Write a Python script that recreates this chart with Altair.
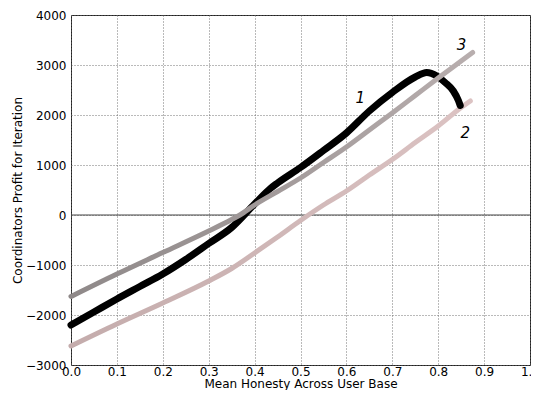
import altair as alt
import pandas as pd

# ---- data ----
x_ticks = [0.0, 0.1, 0.2, 0.3, 0.4, 0.5, 0.6, 0.7, 0.8, 0.9, 1.0]
y_ticks = [-3000, -2000, -1000, 0, 1000, 2000, 3000, 4000]

black_x = [0.0, 0.05, 0.1, 0.15, 0.2, 0.25, 0.3, 0.35, 0.4, 0.434, 0.45, 0.5, 0.55,
           0.6, 0.65, 0.7, 0.75, 0.775, 0.797, 0.815, 0.833, 0.844, 0.848]
black_y = [-2200, -1940, -1680, -1430, -1180, -890, -570, -250, 220, 527, 640, 950, 1290,
           1640, 2080, 2450, 2760, 2850, 2780, 2650, 2480, 2290, 2190]

gray_x = [0.0, 0.1, 0.2, 0.3, 0.35, 0.368, 0.4, 0.45, 0.5, 0.55, 0.6, 0.65, 0.7,
          0.75, 0.8, 0.85, 0.875]
gray_y = [-1630, -1180, -750, -320, -90, 0, 200, 470, 740, 1050, 1360, 1700, 2040,
          2390, 2740, 3080, 3250]

pink_x = [0.0, 0.1, 0.2, 0.3, 0.35, 0.4, 0.45, 0.5, 0.55, 0.6, 0.65, 0.7, 0.75,
          0.8, 0.85, 0.87]
pink_y = [-2620, -2180, -1760, -1320, -1070, -760, -440, -110, 200, 480, 800, 1110, 1450,
          1780, 2150, 2280]

label_text = ["1", "2", "3"]
label_x = [0.63, 0.859, 0.851]
label_y = [2350, 1640, 3410]


def frame(xs, ys):
    return pd.DataFrame({"x": xs, "y": ys, "o": list(range(len(xs)))})


x_enc = alt.X("x:Q",
              scale=alt.Scale(domain=[0, 1], nice=False, zero=False),
              axis=alt.Axis(values=x_ticks, format=".1f",
                            title="Mean Honesty Across User Base",
                            grid=True, gridDash=[1, 2], gridColor="#666",
                            gridOpacity=0.9,
                            tickSize=0, domain=False, labelPadding=1,
                            titleY=22, titleBaseline="alphabetic",
                            labelFlush=False))
y_enc = alt.Y("y:Q",
              scale=alt.Scale(domain=[-3000, 4000], nice=False, zero=False),
              axis=alt.Axis(values=y_ticks, format="d",
                            title="Coordinators Profit for Iteration",
                            grid=True, gridDash=[1, 2], gridColor="#666",
                            gridOpacity=0.9,
                            tickSize=0, domain=False, labelPadding=5,
                            titleX=-54, titleBaseline="middle",
                            labelFlush=False))

zero_rule = alt.Chart(pd.DataFrame({"y": [0]})).mark_rule(
    color="#444", strokeWidth=1).encode(y=y_enc)


def grad(c0, c1):
    return alt.LinearGradient(gradient="linear",
                              stops=[alt.GradientStop(color=c0, offset=0),
                                     alt.GradientStop(color=c1, offset=1)],
                              x1=0, x2=1, y1=1, y2=0)


pink = alt.Chart(frame(pink_x, pink_y)).mark_line(
    color=grad("#c4acac", "#dcc3c3"), strokeWidth=5, strokeCap="round",
    interpolate="monotone").encode(x=x_enc, y=y_enc, order="o:Q")

black = alt.Chart(frame(black_x, black_y)).mark_line(
    color="#000000", strokeWidth=7, strokeCap="round", strokeJoin="round",
    interpolate="monotone").encode(x=x_enc, y=y_enc, order="o:Q")

gray = alt.Chart(frame(gray_x, gray_y)).mark_line(
    color=grad("#8f8989", "#b8aeae"), strokeWidth=5, strokeCap="round",
    interpolate="monotone").encode(x=x_enc, y=y_enc, order="o:Q")

labels = alt.Chart(pd.DataFrame({"t": label_text, "x": label_x, "y": label_y})).mark_text(
    font="DejaVu Sans", fontStyle="italic", fontSize=15, color="black").encode(
    x=x_enc, y=y_enc, text="t:N")

chart = alt.layer(zero_rule, pink, black, gray, labels).properties(
    width=459, height=350, autosize="none",
    padding={"left": 63, "top": 7, "right": 1, "bottom": 25},
).configure_view(stroke="#222", strokeWidth=1).configure_axis(
    labelFont="DejaVu Sans", labelFontSize=12, labelColor="black",
    titleFont="DejaVu Sans", titleFontSize=12, titleFontWeight="normal",
    titleColor="black")

chart.save("out.html", embed_options={"renderer": "svg", "actions": False})
